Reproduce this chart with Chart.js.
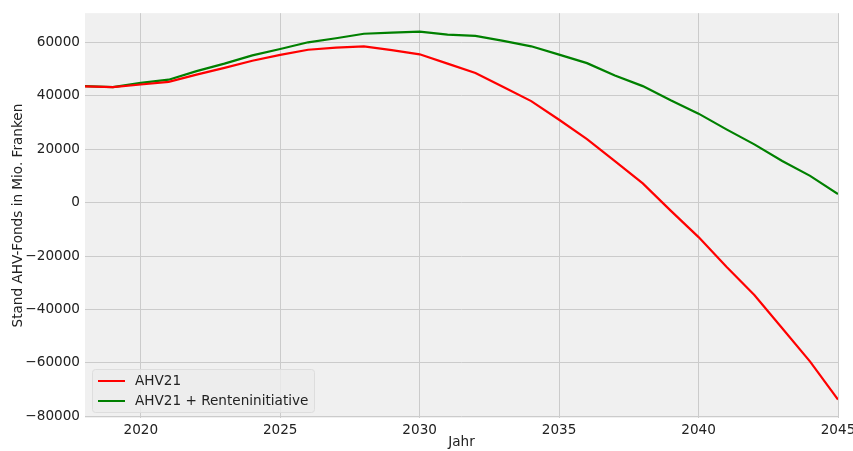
<!DOCTYPE html>
<html>
<head>
<meta charset="utf-8">
<script src="https://cdn.jsdelivr.net/npm/chart.js@4"></script>
<style>
  html, body { margin: 0; padding: 0; background: #ffffff; }
  #wrap { width: 853px; height: 451px; }
</style>
</head>
<body>
<div id="wrap"><canvas id="fonds_chart" width="853" height="451"></canvas></div>
<script>
// data (Mio. Franken)
const years = [2018, 2019, 2020, 2021, 2022, 2023, 2024, 2025, 2026, 2027, 2028, 2029, 2030, 2031,
  2032, 2033, 2034, 2035, 2036, 2037, 2038, 2039, 2040, 2041, 2042, 2043, 2044, 2045];
const ahv21 = [43500, 43200, 44200, 45200, 47900, 50400, 53100, 55300, 57200, 58000, 58500, 57100, 55500, 52000,
  48500, 43300, 38000, 31000, 23800, 15500, 7200, -3000, -12900, -24000, -34600, -47000, -59500, -73700];
const ahv21Rente = [43600, 43200, 44800, 46000, 49200, 52000, 55100, 57500, 60000, 61500, 63200, 63600, 64000, 62900,
  62400, 60500, 58500, 55400, 52200, 47600, 43600, 38300, 33300, 27400, 21800, 15600, 10000, 3200];
const xTicks = [2020, 2025, 2030, 2035, 2040, 2045];
const yTicks = [-80000, -60000, -40000, -20000, 0, 20000, 40000, 60000];
const seriesNames = ["AHV21", "AHV21 + Renteninitiative"];
const seriesColors = ["#ff0000", "#008000"];

const FONT = "'DejaVu Sans', sans-serif";

// grey plot background
const plotBg = {
  id: "plotBg",
  beforeDraw(chart) {
    const { ctx, chartArea: a } = chart;
    ctx.save();
    ctx.fillStyle = "#f0f0f0";
    ctx.fillRect(a.left, a.top, a.right - a.left, a.bottom - a.top);
    ctx.restore();
  },
};

// legend box inside lower left corner
const innerLegend = {
  id: "innerLegend",
  afterDraw(chart) {
    const { ctx, chartArea: a } = chart;
    const x = a.left + 7;
    const y = a.bottom - 49;
    ctx.save();
    ctx.fillStyle = "rgba(236,236,236,0.8)";
    ctx.strokeStyle = "#dddddd";
    ctx.lineWidth = 1;
    ctx.beginPath();
    ctx.roundRect(x + 0.5, y + 0.5, 222, 43, 3);
    ctx.fill();
    ctx.stroke();
    ctx.font = "13.6px " + FONT;
    ctx.textBaseline = "middle";
    chart.data.datasets.forEach((ds, i) => {
      const ly = y + 12 + i * 20;
      ctx.strokeStyle = ds.borderColor;
      ctx.lineWidth = 2;
      ctx.beginPath();
      ctx.moveTo(x + 6, ly);
      ctx.lineTo(x + 33, ly);
      ctx.stroke();
      ctx.fillStyle = "#222222";
      ctx.fillText(ds.label, x + 43, ly);
    });
    ctx.restore();
  },
};

const minus = (v) => String(v).replace("-", "\u2212");

new Chart(document.getElementById("fonds_chart"), {
  type: "line",
  data: {
    datasets: [
      {
        label: seriesNames[0],
        data: years.map((y, i) => ({ x: y, y: ahv21[i] })),
        borderColor: seriesColors[0],
        borderWidth: 2.2,
        pointRadius: 0,
        tension: 0,
        fill: false,
      },
      {
        label: seriesNames[1],
        data: years.map((y, i) => ({ x: y, y: ahv21Rente[i] })),
        borderColor: seriesColors[1],
        borderWidth: 2.2,
        pointRadius: 0,
        tension: 0,
        fill: false,
      },
    ],
  },
  options: {
    responsive: false,
    animation: false,
    layout: { padding: { top: 12, right: 0, left: 0, bottom: 0 } },
    plugins: {
      legend: { display: false },
      tooltip: { enabled: false },
    },
    scales: {
      x: {
        type: "linear",
        min: 2018,
        max: 2045,
        afterBuildTicks: (scale) => { scale.ticks = xTicks.map((v) => ({ value: v })); },
        afterFit: (scale) => {
          scale.height = 33;
          scale.paddingLeft = 0;
          scale.paddingRight = 15;
        },
        grid: { color: "#cbcbcb", lineWidth: 1, drawTicks: false },
        border: { display: false },
        ticks: {
          font: { family: FONT, size: 13.6 },
          color: "#222222",
          padding: 4,
          maxRotation: 0,
          callback: (v) => String(v),
        },
        title: {
          display: true,
          text: "Jahr",
          font: { family: FONT, size: 13.6 },
          color: "#222222",
          padding: { top: -4, bottom: 0 },
        },
      },
      y: {
        min: -80600,
        max: 70900,
        afterBuildTicks: (scale) => { scale.ticks = yTicks.map((v) => ({ value: v })); },
        afterFit: (scale) => { scale.width = 85; },
        grid: { color: "#cbcbcb", lineWidth: 1, drawTicks: false },
        border: { display: false },
        ticks: {
          font: { family: FONT, size: 13.6 },
          color: "#222222",
          padding: 5,
          callback: (v) => minus(v),
        },
        title: {
          display: true,
          text: "Stand AHV-Fonds in Mio. Franken",
          font: { family: FONT, size: 13.6 },
          color: "#222222",
          padding: { top: 10, bottom: 0 },
        },
      },
    },
  },
  plugins: [plotBg, innerLegend],
});
</script>
</body>
</html>
